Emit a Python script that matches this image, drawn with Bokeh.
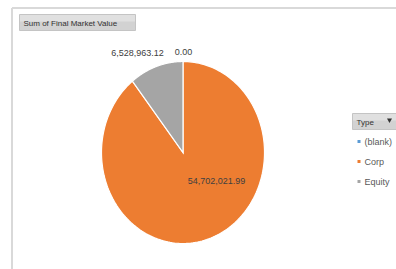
import numpy as np
from bokeh.plotting import figure
from bokeh.models import Range1d
from bokeh.core.properties import value
from bokeh.embed import file_html
from bokeh.resources import INLINE

# ---- data ----
types = ["(blank)", "Corp", "Equity"]
values = [0.0, 54702021.99, 6528963.12]
labels = ["0.00", "54,702,021.99", "6,528,963.12"]
colors = ["#5B9BD5", "#ED7D31", "#A5A5A5"]
title_text = "Sum of Final Market Value"
legend_title = "Type"

W, H = 396, 269
p = figure(width=W, height=H, output_backend="svg", toolbar_location=None,
           x_range=Range1d(0, W), y_range=Range1d(0, H),
           min_border=0, outline_line_color=None)
p.axis.visible = False
p.grid.visible = False
p.background_fill_color = "white"
p.border_fill_color = "white"

def sy(Y):  # screen Y -> data y
    return H - Y

# frame lines
p.line([11.5, 396], [sy(7.5), sy(7.5)], line_color="#d9d9d9", line_width=2)
p.line([11.5, 11.5], [sy(7.5), sy(270)], line_color="#d9d9d9", line_width=2)

# title button
p.quad(left=19, right=135, top=sy(14), bottom=sy(30), fill_color="#d2d2d2",
       line_color="#c4c4c4", line_width=1)
p.quad(left=19.5, right=134.5, top=sy(14.5), bottom=sy(21), fill_color="#e0e0e0",
       line_color=None)
p.text(x=[23], y=[sy(22.5)], text=[title_text], text_font=value("Liberation Sans"),
       text_font_size="8px", text_color="#333333", text_baseline="middle")

# pie (slightly stretched vertically, as in the reference)
vals = np.array(values)
frac = vals / vals.sum()
ang = frac * 2 * np.pi
ends = np.pi / 2 - np.cumsum(ang)
starts = ends + ang
cx, cy, rx, ry = 182.5, sy(152), 81.5, 91
xs, ys, cs = [], [], []
for s, e, c, v in zip(starts, ends, colors, vals):
    if v <= 0:
        continue
    t = np.linspace(s, e, 200)
    xs.append([cx] + list(cx + rx * np.cos(t)) + [cx])
    ys.append([cy] + list(cy + ry * np.sin(t)) + [cy])
    cs.append(c)
p.patches(xs, ys, fill_color=cs, line_color="white", line_width=1.2,
          line_join="miter")

# data labels (anchor positions)
label_pos = [(183, 51), (216, 180), (137, 52)]
for (lx, ly), t in zip(label_pos, labels):
    p.text(x=[lx], y=[sy(ly)], text=[t], text_font=value("Liberation Sans"),
           text_font_size="9px", text_color="#404040", text_align="center",
           text_baseline="middle")

# legend button
p.quad(left=352, right=396, top=sy(113), bottom=sy(129), fill_color="#d2d2d2",
       line_color="#c4c4c4", line_width=1)
p.quad(left=352.5, right=395.5, top=sy(113.5), bottom=sy(120), fill_color="#e0e0e0",
       line_color=None)
p.text(x=[356], y=[sy(121.5)], text=[legend_title], text_font=value("Liberation Sans"),
       text_font_size="8px", text_color="#333333", text_baseline="middle")
p.scatter(x=[389], y=[sy(119.5)], marker="inverted_triangle", size=5,
          fill_color="#333333", line_color=None)

# legend items
for i, (t, c) in enumerate(zip(types, colors)):
    Y = 141 + i * 20
    p.quad(left=357, right=360, top=sy(Y - 1.5), bottom=sy(Y + 1.5),
           fill_color=c, line_color=None)
    p.text(x=[364], y=[sy(Y)], text=[t], text_font=value("Liberation Sans"),
           text_font_size="9px", text_color="#595959", text_baseline="middle")

open("out.html", "w").write(file_html(p, INLINE))
